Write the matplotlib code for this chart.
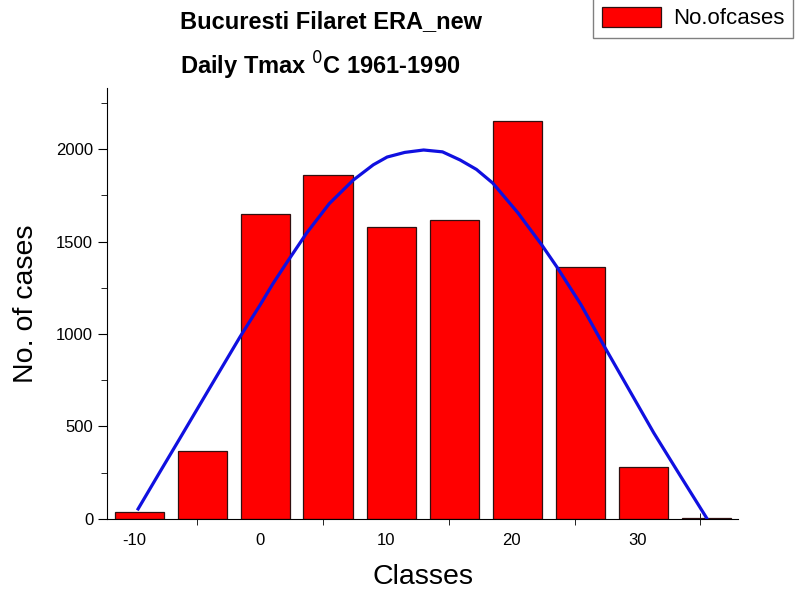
import matplotlib
matplotlib.use('Agg')
import matplotlib.pyplot as plt
from matplotlib.ticker import MultipleLocator

plt.rcParams['font.family'] = ['Liberation Sans', 'DejaVu Sans']
plt.rcParams['axes.unicode_minus'] = False

# bar centres (classes, as placed in the original) and counts
classes = [-9.6, -4.6, 0.4, 5.4, 10.45, 15.45, 20.45, 25.5, 30.5, 35.5]
counts = [40, 365, 1650, 1860, 1580, 1615, 2150, 1362, 282, 5]

# fitted curve
fit_x = [-9.7, -8, -6.4, -4, -1.6, 0, 1.0, 2.1, 3.7, 5.5, 7.4, 9, 10.1, 11.5, 13.0,
         14.5, 15.9, 17.2, 18.5, 20.5, 22.4, 23.6, 25.5, 27.3, 29.3, 31.3, 33.4, 35.5]
fit_y = [54, 250, 433, 709, 984, 1157, 1270, 1384, 1546, 1705, 1832, 1915, 1957, 1982, 1995,
         1985, 1941, 1890, 1816, 1655, 1481, 1362, 1160, 941, 703, 465, 234, 5]

fig = plt.figure(figsize=(8.06, 5.91), dpi=100)
ax = fig.add_axes([0.1328, 0.122, 0.7829, 0.729])

ax.bar(classes, counts, width=3.9, color='#ff0000', edgecolor='#301010', linewidth=0.9,
       label='No.ofcases', zorder=2)
ax.plot(fit_x, fit_y, color='#1010e0', linewidth=2.3, zorder=3, solid_joinstyle='round')

ax.set_xlim(-12.17, 38.0)
ax.set_ylim(0, 2330)
for s in ['top', 'right']:
    ax.spines[s].set_visible(False)

ax.xaxis.set_major_locator(MultipleLocator(10))
ax.xaxis.set_minor_locator(MultipleLocator(5))
ax.yaxis.set_major_locator(MultipleLocator(500))
ax.yaxis.set_minor_locator(MultipleLocator(250))
ax.tick_params(axis='x', which='major', length=0, labelsize=12, pad=10)
ax.tick_params(axis='x', which='minor', direction='inout', length=9)
ax.tick_params(axis='y', which='major', direction='out', length=6.5, labelsize=12)
ax.tick_params(axis='y', which='minor', direction='out', length=4)

ax.set_xlabel('Classes', fontsize=20.5, labelpad=12)
ax.set_ylabel('No. of cases', fontsize=20.5, labelpad=12)

fig.text(0.223, 0.963, 'Bucuresti Filaret ERA_new', ha='left', va='center',
         fontsize=17, fontweight='bold')
fig.text(0.223, 0.888, r'Daily Tmax $^{0}$C 1961-1990', ha='left', va='center',
         fontsize=17, fontweight='bold')

fig.legend(loc='upper left', bbox_to_anchor=(593 / 806, 1.004), fontsize=16, fancybox=False,
           edgecolor='#808080', framealpha=1, handlelength=2.65, handleheight=1.05,
           handletextpad=0.55, borderpad=0.4, borderaxespad=0)

fig.savefig('out.png', dpi=100)
